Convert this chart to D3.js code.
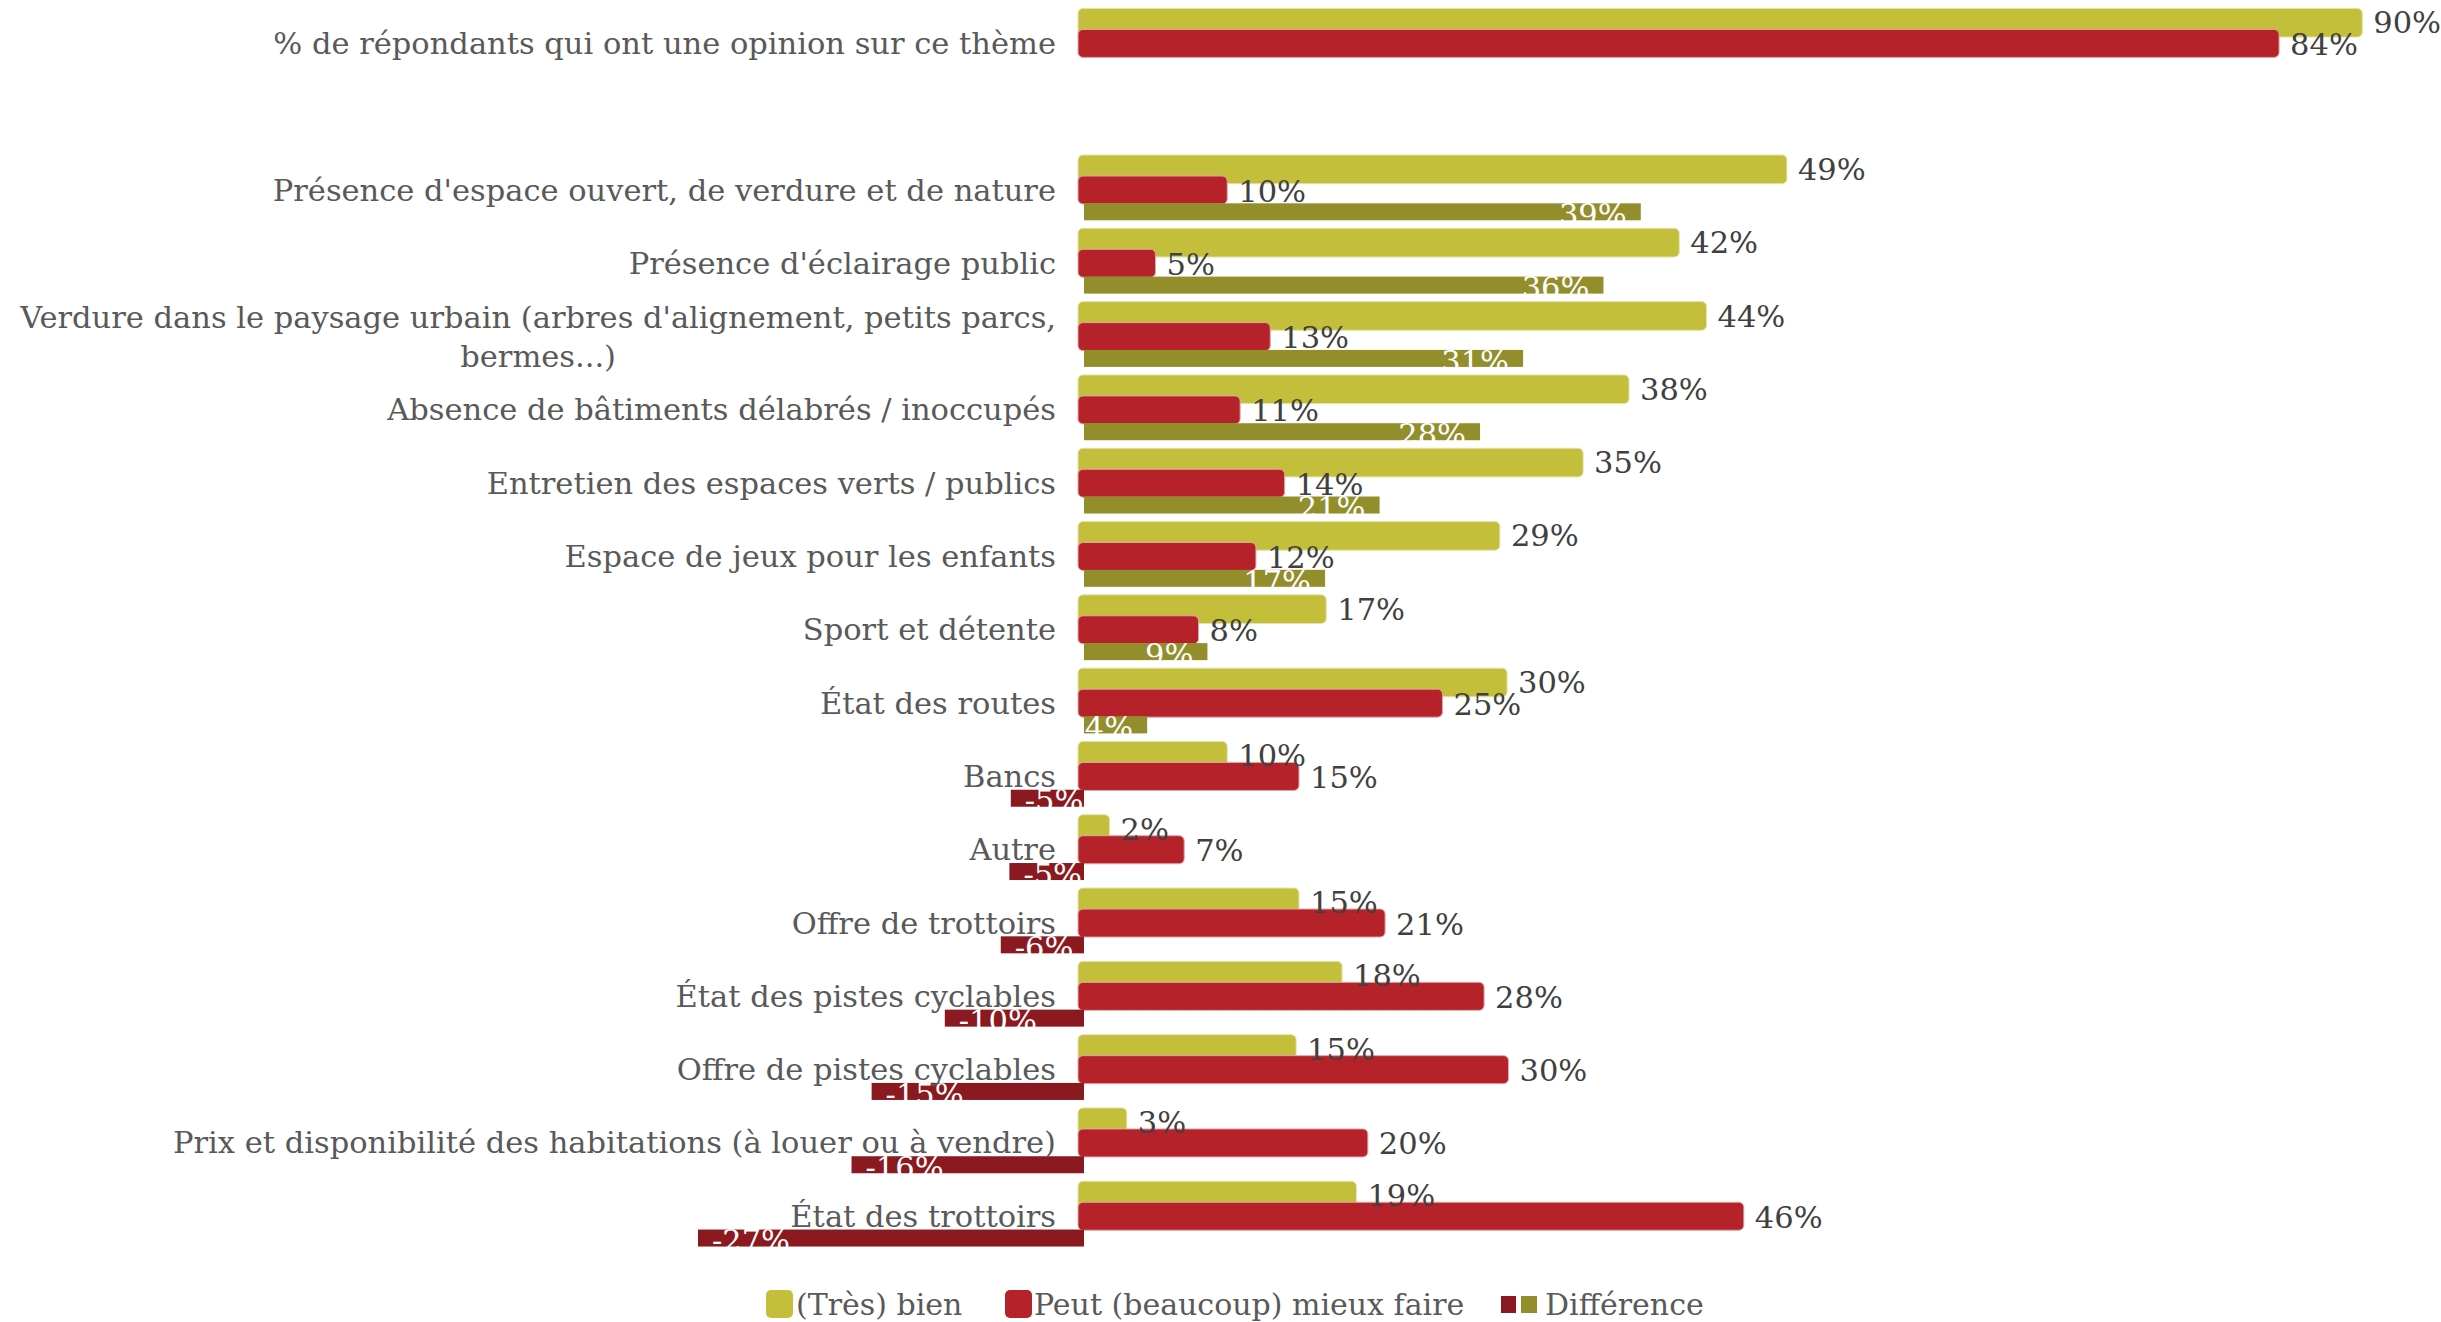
<!DOCTYPE html>
<html>
<head>
<meta charset="utf-8">
<script src="https://cdn.jsdelivr.net/npm/d3@7/dist/d3.min.js"></script>
<style>
  body { margin: 0; background: #fff; }
  svg { display: block; }
  text { font-family: "DejaVu Serif", serif; }
</style>
</head>
<body>
<div id="chart"></div>
<script>
// categories, top to bottom ("" is the empty spacer row)
const categories = [
  "% de répondants qui ont une opinion sur ce thème",
  "",
  "Présence d'espace ouvert, de verdure et de nature",
  "Présence d'éclairage public",
  "Verdure dans le paysage urbain (arbres d'alignement, petits parcs, bermes...)",
  "Absence de bâtiments délabrés / inoccupés",
  "Entretien des espaces verts / publics",
  "Espace de jeux pour les enfants",
  "Sport et détente",
  "État des routes",
  "Bancs",
  "Autre",
  "Offre de trottoirs",
  "État des pistes cyclables",
  "Offre de pistes cyclables",
  "Prix et disponibilité des habitations (à louer ou à vendre)",
  "État des trottoirs"
]
// values in % (labels show them rounded)
const bien = [89.5, null, 49.4, 41.9, 43.8, 38.4, 35.2, 29.4, 17.3, 29.9, 10.4, 2.2, 15.4, 18.4, 15.2, 3.4, 19.4]
const mieux = [83.7, null, 10.4, 5.4, 13.4, 11.3, 14.4, 12.4, 8.4, 25.4, 15.4, 7.4, 21.4, 28.3, 30.0, 20.2, 46.4]
const diff = [null, null, 38.8, 36.2, 30.6, 27.6, 20.6, 16.8, 8.6, 4.4, -5.1, -5.2, -5.8, -9.7, -14.8, -16.2, -26.9]
const legendItems = ["(Très) bien", "Peut (beaucoup) mieux faire", "Différence"]

const colors = {
  bien: "#c3bf3a",
  mieux: "#b52229",
  diffPos: "#928e2b",
  diffNeg: "#8a1a1f",
  label: "#595959",
  value: "#404040"
}

const width = 2441
const height = 1322
const fontSize = 30.5

const svg = d3.select("#chart").append("svg")
  .attr("width", width)
  .attr("height", height)

const x = d3.scaleLinear().domain([0, 90]).range([1078, 1078 + 90 * 14.35])
const diffShift = 6
const y = d3.scaleBand().domain(d3.range(categories.length)).range([6.75, 1252.9])
const center = i => y(i) + y.bandwidth() / 2
const pct = v => Math.round(v) + "%"

const rows = categories.map((c, i) => ({ i, cat: c, bien: bien[i], mieux: mieux[i], diff: diff[i] }))

// (Très) bien
svg.append("g").selectAll("rect")
  .data(rows.filter(d => d.bien !== null))
  .enter().append("rect")
  .attr("x", x(0))
  .attr("y", d => center(d.i) - 35)
  .attr("width", d => x(d.bien) - x(0))
  .attr("height", 28.7)
  .attr("rx", 5)
  .attr("fill", colors.bien)
  .attr("stroke", "#e4e2b0")
  .attr("stroke-width", 1)

// Peut (beaucoup) mieux faire
svg.append("g").selectAll("rect")
  .data(rows.filter(d => d.mieux !== null))
  .enter().append("rect")
  .attr("x", x(0))
  .attr("y", d => center(d.i) - 14)
  .attr("width", d => x(d.mieux) - x(0))
  .attr("height", 28)
  .attr("rx", 5)
  .attr("fill", colors.mieux)
  .attr("stroke", "#e0a6a8")
  .attr("stroke-width", 1)

// Différence
svg.append("g").selectAll("rect")
  .data(rows.filter(d => d.diff !== null))
  .enter().append("rect")
  .attr("x", d => Math.min(x(0), x(d.diff)) + diffShift)
  .attr("y", d => center(d.i) + 13.3)
  .attr("width", d => Math.abs(x(d.diff) - x(0)))
  .attr("height", 17)
  .attr("fill", d => d.diff >= 0 ? colors.diffPos : colors.diffNeg)

// category labels, wrapped and centred inside a right aligned block
const labelRight = 1056
const maxLabelWidth = 1060
const labels = svg.append("g")
  .attr("font-size", fontSize)
  .attr("fill", colors.label)

rows.filter(d => d.cat !== "").forEach(d => {
  const words = d.cat.split(" ")
  const lines = []
  let line = []
  const probe = labels.append("text")
  words.forEach(w => {
    line.push(w)
    probe.text(line.join(" "))
    if (probe.node().getComputedTextLength() > maxLabelWidth && line.length > 1) {
      line.pop()
      lines.push(line.join(" "))
      line = [w]
    }
  })
  lines.push(line.join(" "))
  const widths = lines.map(l => { probe.text(l); return probe.node().getComputedTextLength() })
  probe.remove()
  const blockW = d3.max(widths)
  const cx = labelRight - blockW / 2
  const lineH = 39
  const top = center(d.i) - (lines.length - 1) * lineH / 2
  lines.forEach((l, k) => {
    labels.append("text")
      .attr("x", cx)
      .attr("y", top + k * lineH)
      .attr("text-anchor", "middle")
      .attr("dominant-baseline", "central")
      .text(l)
  })
})

// value labels
const values = svg.append("g")
  .attr("font-size", fontSize)

values.selectAll(".vb")
  .data(rows.filter(d => d.bien !== null))
  .enter().append("text")
  .attr("x", d => x(d.bien) + 11)
  .attr("y", d => center(d.i) - 20.6)
  .attr("dominant-baseline", "central")
  .attr("fill", colors.value)
  .text(d => pct(d.bien))

values.selectAll(".vm")
  .data(rows.filter(d => d.mieux !== null))
  .enter().append("text")
  .attr("x", d => x(d.mieux) + 11)
  .attr("y", d => center(d.i) + 1)
  .attr("dominant-baseline", "central")
  .attr("fill", colors.value)
  .text(d => pct(d.mieux))

// white labels inside the end of the difference bars (clipped look comes from white on white)
values.selectAll(".vd")
  .data(rows.filter(d => d.diff !== null))
  .enter().append("text")
  .attr("x", d => d.diff >= 0 ? x(d.diff) + diffShift - 14 : x(d.diff) + diffShift + 14)
  .attr("y", d => center(d.i) + 35)
  .attr("text-anchor", d => d.diff >= 0 ? "end" : "start")
  .attr("fill", "#ffffff")
  .text(d => pct(d.diff))

// legend
const legend = svg.append("g")
  .attr("font-size", 30)
  .attr("fill", colors.label)
const ly = 1304

legend.append("rect").attr("x", 766).attr("y", ly - 14).attr("width", 27).attr("height", 28)
  .attr("rx", 5).attr("fill", colors.bien)
legend.append("text").attr("x", 796).attr("y", ly).attr("dominant-baseline", "central").text(legendItems[0])

legend.append("rect").attr("x", 1005).attr("y", ly - 14).attr("width", 27).attr("height", 28)
  .attr("rx", 5).attr("fill", colors.mieux)
legend.append("text").attr("x", 1034).attr("y", ly).attr("dominant-baseline", "central").text(legendItems[1])

legend.append("rect").attr("x", 1501).attr("y", ly - 8).attr("width", 15).attr("height", 17)
  .attr("fill", colors.diffNeg)
legend.append("rect").attr("x", 1521).attr("y", ly - 8).attr("width", 16).attr("height", 17)
  .attr("fill", colors.diffPos)
legend.append("text").attr("x", 1545).attr("y", ly).attr("dominant-baseline", "central").text(legendItems[2])
</script>
</body>
</html>
